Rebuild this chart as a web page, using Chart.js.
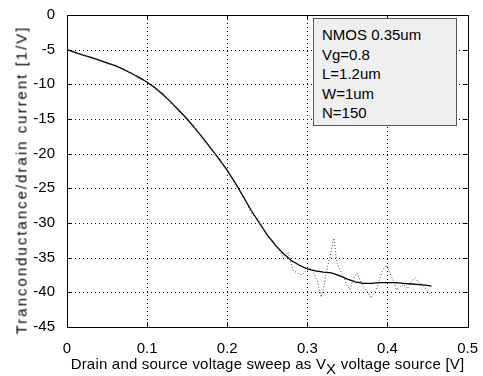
<!DOCTYPE html>
<html>
<head>
<meta charset="utf-8">
<script src="https://cdn.jsdelivr.net/npm/chart.js@4"></script>
<style>
    html, body { margin: 0; padding: 0; background: #fff; }
    #wrap { position: relative; width: 483px; height: 376px; }
    #note {
        position: absolute; left: 313px; top: 18px; width: 134px; height: 100px;
        padding: 6px 0 0 8px; background: #efefef; border: 1px solid #555;
        font: 15px "Liberation Sans", Arial, sans-serif; line-height: 19.5px; color: #000;
    }
    #xtitle {
        position: absolute; left: 60px; width: 415px; top: 355px; text-align: center;
        font: 15px "Liberation Sans", Arial, sans-serif; color: #000; white-space: nowrap;
        letter-spacing: 0.2px;
    }
    #xtitle sub { font-size: 15px; vertical-align: -5px; line-height: 0; }
    #ytitle {
        position: absolute; left: 21px; top: 180px; width: 0; height: 0;
    }
    #ytitle span {
        position: absolute; left: 0; top: 0; white-space: nowrap;
        transform: translate(-50%, -50%) rotate(-90deg);
        font: 15px "Liberation Sans", Arial, sans-serif; color: #000;
        letter-spacing: 2px;
    }
</style>
</head>
<body>
<div id="wrap">
    <canvas id="chart" width="483" height="376"></canvas>
    <div id="note">NMOS 0.35um<br>Vg=0.8<br>L=1.2um<br>W=1um<br>N=150</div>
    <div id="ytitle"><span>Tranconductance/drain current [1/V]</span></div>
    <div id="xtitle">Drain and source voltage sweep as V<sub>X</sub> voltage source [V]</div>
</div>
<script>

// smoothed curve
const fitX = [
    0, 0.01, 0.02, 0.03, 0.04, 0.05, 0.06, 0.07, 0.08, 0.09,
    0.10, 0.11, 0.12, 0.13, 0.14, 0.15, 0.16, 0.17, 0.18, 0.19,
    0.20, 0.21, 0.22, 0.23, 0.24, 0.25, 0.26, 0.27, 0.28, 0.29,
    0.30, 0.31, 0.32, 0.33, 0.34, 0.35, 0.36, 0.37, 0.38, 0.39,
    0.40, 0.41, 0.42, 0.43, 0.44, 0.45, 0.455
];
const fitY = [
    -5.0, -5.4, -5.8, -6.1, -6.5, -6.9, -7.3, -7.8, -8.4, -9.0,
    -9.7, -10.5, -11.5, -12.6, -13.8, -15.0, -16.4, -17.8, -19.3, -20.8,
    -22.4, -24.2, -26.2, -28.2, -30.0, -31.7, -33.2, -34.4, -35.4, -36.1,
    -36.6, -36.9, -37.1, -37.2, -37.6, -38.1, -38.5, -38.7, -38.7, -38.6,
    -38.6, -38.6, -38.7, -38.8, -38.9, -39.0, -39.1
];

// raw (noisy) samples
const rawX = [
    0, 0.01, 0.02, 0.03, 0.04, 0.05, 0.06, 0.07, 0.08, 0.09,
    0.10, 0.11, 0.12, 0.13, 0.14, 0.15, 0.16, 0.17, 0.18, 0.19,
    0.20, 0.21, 0.22, 0.23, 0.24, 0.245, 0.25, 0.255, 0.26, 0.265,
    0.27, 0.276, 0.282, 0.287, 0.293, 0.298, 0.303, 0.308, 0.313, 0.317,
    0.321, 0.325, 0.329, 0.333, 0.337, 0.341, 0.345, 0.349, 0.353, 0.357,
    0.362, 0.366, 0.370, 0.375, 0.379, 0.383, 0.387, 0.391, 0.395, 0.399,
    0.403, 0.407, 0.411, 0.416, 0.420, 0.425, 0.429, 0.434, 0.438, 0.443,
    0.447, 0.451, 0.455
];
const rawY = [
    -5.0, -5.5, -5.7, -6.3, -6.4, -7.1, -7.2, -7.9, -8.3, -9.2,
    -9.6, -10.7, -11.3, -12.8, -13.6, -15.2, -16.2, -18.0, -19.1, -21.0,
    -22.2, -24.5, -26.0, -28.6, -29.6, -30.8, -32.0, -32.3, -33.0, -34.0,
    -34.9, -34.2, -36.8, -37.2, -37.5, -36.9, -36.5, -37.3, -38.5, -40.7,
    -39.0, -36.4, -34.5, -32.2, -35.8, -36.8, -37.6, -38.9, -39.6, -38.2,
    -37.2, -38.3, -39.2, -39.9, -40.8, -40.2, -39.3, -37.8, -36.6, -36.1,
    -37.2, -38.2, -39.6, -39.2, -38.8, -39.5, -38.6, -37.9, -38.4, -38.8,
    -39.4, -40.0, -40.4
];

const xTicks = [ 0, 0.1, 0.2, 0.3, 0.4, 0.5 ];
const yTicks = [ 0, -5, -10, -15, -20, -25, -30, -35, -40, -45 ];

const FONT = '"Liberation Sans", Arial, sans-serif';

const toPoints = ( xs, ys ) => xs.map( ( x, i ) => ( { x: x, y: ys[ i ] } ) );

// dotted grid, drawn under the lines
const gridPlugin = {
    id: 'dotGrid',
    beforeDatasetsDraw ( chart ) {

        const { ctx, chartArea: a, scales } = chart;

        ctx.save();
        ctx.strokeStyle = '#000';
        ctx.lineWidth = 1;
        ctx.setLineDash( [ 1, 3 ] );
        ctx.beginPath();

        xTicks.forEach( v => {
            const px = Math.round( scales.x.getPixelForValue( v ) ) + 0.5;
            ctx.moveTo( px, a.top ); ctx.lineTo( px, a.bottom );
        } );

        yTicks.forEach( v => {
            const py = Math.round( scales.y.getPixelForValue( v ) ) + 0.5;
            ctx.moveTo( a.left, py ); ctx.lineTo( a.right, py );
        } );

        ctx.stroke();
        ctx.restore();

    }
};

// box round the plot with inward tick marks on all four sides
const boxPlugin = {
    id: 'box',
    afterDraw ( chart ) {

        const { ctx, chartArea: a, scales } = chart;
        const len = 5;

        ctx.save();
        ctx.strokeStyle = '#000';
        ctx.lineWidth = 1;
        ctx.beginPath();

        xTicks.forEach( v => {
            const px = Math.round( scales.x.getPixelForValue( v ) ) + 0.5;
            ctx.moveTo( px, a.bottom ); ctx.lineTo( px, a.bottom - len );
            ctx.moveTo( px, a.top ); ctx.lineTo( px, a.top + len );
        } );

        yTicks.forEach( v => {
            const py = Math.round( scales.y.getPixelForValue( v ) ) + 0.5;
            ctx.moveTo( a.left, py ); ctx.lineTo( a.left + len, py );
            ctx.moveTo( a.right, py ); ctx.lineTo( a.right - len, py );
        } );

        ctx.stroke();
        ctx.strokeRect( Math.round( a.left ) + 0.5, Math.round( a.top ) + 0.5,
            Math.round( a.right - a.left ), Math.round( a.bottom - a.top ) );
        ctx.restore();

    }
};

Chart.defaults.font.family = FONT;
Chart.defaults.color = '#000';

new Chart( document.getElementById( 'chart' ).getContext( '2d' ), {
    type: 'scatter',
    data: {
        datasets: [ {
            data: toPoints( rawX, rawY ),
            showLine: true,
            borderColor: '#444',
            borderWidth: 1,
            borderDash: [ 1, 2 ],
            pointRadius: 0
        }, {
            data: toPoints( fitX, fitY ),
            showLine: true,
            borderColor: '#000',
            borderWidth: 1.3,
            pointRadius: 0,
            tension: 0
        } ]
    },
    options: {
        responsive: false,
        animation: false,
        layout: { padding: { top: 15, right: 15, left: 0, bottom: 0 } },
        plugins: { legend: { display: false }, tooltip: { enabled: false } },
        scales: {
            x: {
                type: 'linear',
                min: 0, max: 0.5,
                afterBuildTicks: s => { s.ticks = xTicks.map( v => ( { value: v } ) ); },
                afterFit: s => { s.height = 49; },
                grid: { display: false },
                border: { display: false },
                ticks: { font: { size: 15 }, padding: 5, maxRotation: 0 }
            },
            y: {
                min: -45, max: 0,
                afterBuildTicks: s => { s.ticks = yTicks.map( v => ( { value: v } ) ); },
                afterFit: s => { s.width = 67; },
                grid: { display: false },
                border: { display: false },
                ticks: { font: { size: 15 }, padding: 4 }
            }
        }
    },
    plugins: [ gridPlugin, boxPlugin ]
} );

</script>
</body>
</html>
